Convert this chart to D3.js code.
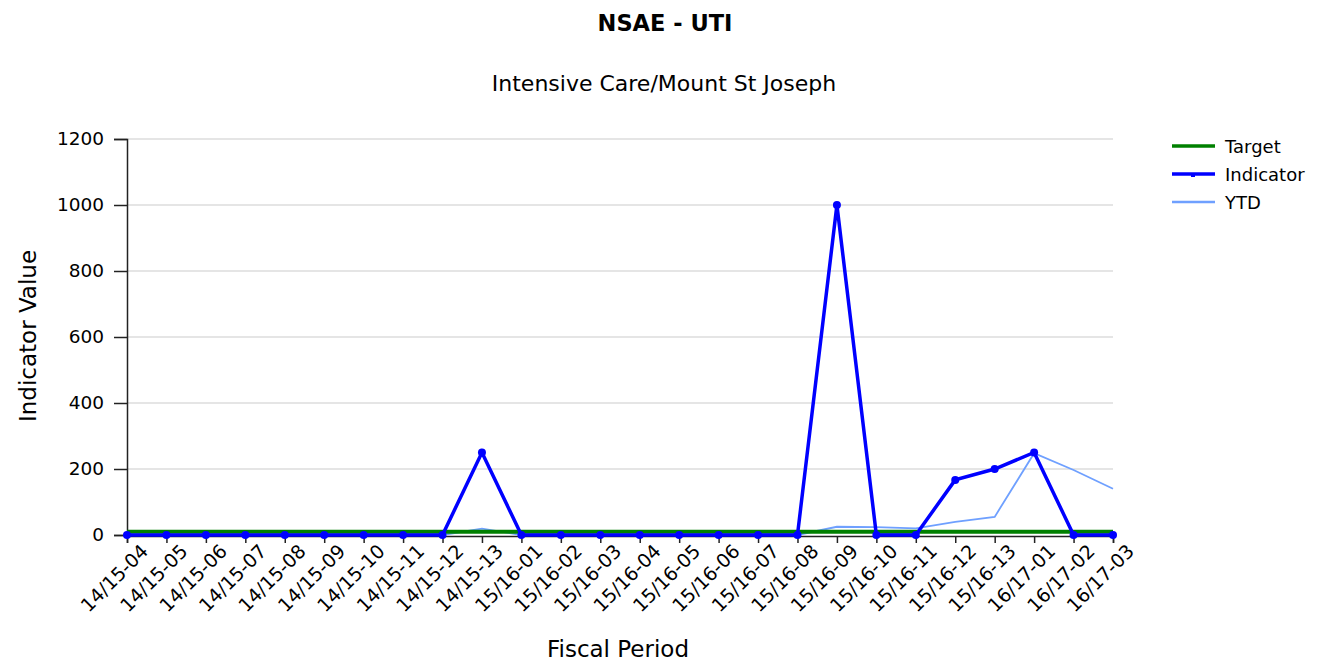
<!DOCTYPE html>
<html>
<head>
<meta charset="utf-8">
<script src="https://cdn.jsdelivr.net/npm/d3@7"></script>
<style>
  body { margin: 0; background: #fff; }
  svg text { font-family: "DejaVu Sans", Verdana, sans-serif; fill: #000; }
</style>
</head>
<body>
<svg></svg>
<script>
const periods = [
  "14/15-04", "14/15-05", "14/15-06", "14/15-07", "14/15-08", "14/15-09", "14/15-10",
  "14/15-11", "14/15-12", "14/15-13",
  "15/16-01", "15/16-02", "15/16-03", "15/16-04", "15/16-05", "15/16-06", "15/16-07",
  "15/16-08", "15/16-09", "15/16-10", "15/16-11", "15/16-12", "15/16-13",
  "16/17-01", "16/17-02", "16/17-03"
];
const targetValues = periods.map(() => 10);
const indicatorValues = [0, 0, 0, 0, 0, 0, 0, 0, 0, 250, 0, 0, 0, 0, 0, 0, 0, 0, 1000, 0, 0, 167, 200, 250, 0, 0];
const ytdValues = [0, 0, 0, 0, 0, 0, 0, 0, 0, 19, 0, 0, 0, 0, 0, 0, 0, 0, 25, 24, 20, 40, 55, 248, 197, 140];
const yTicks = [0, 200, 400, 600, 800, 1000, 1200];

const W = 1322, H = 664;
const margin = { top: 139, right: 209, bottom: 129, left: 127 };
const width = W - margin.left - margin.right;
const height = H - margin.top - margin.bottom;

const svg = d3.select("svg").attr("width", W).attr("height", H);

const x = d3.scalePoint().domain(periods).range([0, width]).padding(0);
const y = d3.scaleLinear().domain([0, 1200]).range([height, 0]);

const chart = svg.append("g").attr("transform", `translate(${margin.left},${margin.top})`);

// gridlines
chart.append("g")
  .selectAll("line")
  .data(yTicks.filter(d => d > 0))
  .join("line")
  .attr("x1", 0).attr("x2", width)
  .attr("y1", d => y(d)).attr("y2", d => y(d))
  .attr("stroke", "#dcdcdc").attr("stroke-width", 1.5);

// y axis
const yAxis = chart.append("g")
  .call(d3.axisLeft(y).tickValues(yTicks).tickSize(13).tickPadding(10).tickFormat(d3.format("d")));
yAxis.select(".domain").attr("stroke", "#222").attr("stroke-width", 1.5);
yAxis.selectAll(".tick line").attr("stroke", "#222").attr("stroke-width", 1.5);
yAxis.selectAll("text").style("font-size", "18.5px");

// x axis
const xAxis = chart.append("g")
  .attr("transform", `translate(0,${height + 1})`)
  .call(d3.axisBottom(x).tickSize(7).tickPadding(4));
xAxis.select(".domain").attr("stroke", "#222").attr("stroke-width", 1.5);
xAxis.selectAll(".tick line").attr("stroke", "#222").attr("stroke-width", 1.5);
xAxis.selectAll("text")
  .style("font-size", "19px")
  .attr("text-anchor", "end")
  .attr("dx", "0.2em")
  .attr("dy", "0.85em")
  .attr("transform", "rotate(-45)");

const line = vals => d3.line()
  .x((d, i) => x(periods[i]))
  .y(d => y(d))(vals);

chart.append("path")
  .attr("d", line(ytdValues))
  .attr("fill", "none")
  .attr("stroke", "#6fa0ff")
  .attr("stroke-width", 1.8);

chart.append("path")
  .attr("d", line(targetValues))
  .attr("fill", "none")
  .attr("stroke", "#008000")
  .attr("stroke-width", 4);

chart.append("path")
  .attr("d", line(indicatorValues))
  .attr("fill", "none")
  .attr("stroke", "#0000ff")
  .attr("stroke-width", 3.5);

chart.selectAll(".pt")
  .data(indicatorValues)
  .join("circle")
  .attr("class", "pt")
  .attr("cx", (d, i) => x(periods[i]))
  .attr("cy", d => y(d))
  .attr("r", 4)
  .attr("fill", "#0000ff");

// titles
svg.append("text")
  .attr("x", 665).attr("y", 31)
  .attr("text-anchor", "middle")
  .style("font-size", "22.5px").style("font-weight", "bold")
  .text("NSAE - UTI");

svg.append("text")
  .attr("x", 664).attr("y", 91)
  .attr("text-anchor", "middle")
  .style("font-size", "22px")
  .text("Intensive Care/Mount St Joseph");

svg.append("text")
  .attr("transform", "translate(36,336) rotate(-90)")
  .attr("text-anchor", "middle")
  .style("font-size", "23px")
  .text("Indicator Value");

svg.append("text")
  .attr("x", 618).attr("y", 657)
  .attr("text-anchor", "middle")
  .style("font-size", "23px")
  .text("Fiscal Period");

// legend
const legendItems = [
  { name: "Target", color: "#008000", w: 3.5, marker: false },
  { name: "Indicator", color: "#0000ff", w: 3.5, marker: true },
  { name: "YTD", color: "#6fa0ff", w: 2.5, marker: false }
];
const legend = svg.append("g").attr("transform", "translate(1172,146)");
legendItems.forEach((d, i) => {
  const row = legend.append("g").attr("transform", `translate(0,${i * 28})`);
  row.append("line").attr("x1", 0).attr("x2", 43)
    .attr("stroke", d.color).attr("stroke-width", d.w);
  if (d.marker) row.append("rect").attr("x", 19).attr("y", 0).attr("width", 4).attr("height", 3).attr("fill", d.color);
  row.append("text").attr("x", 53).attr("y", 7).style("font-size", "18px").text(d.name);
});
</script>
</body>
</html>
